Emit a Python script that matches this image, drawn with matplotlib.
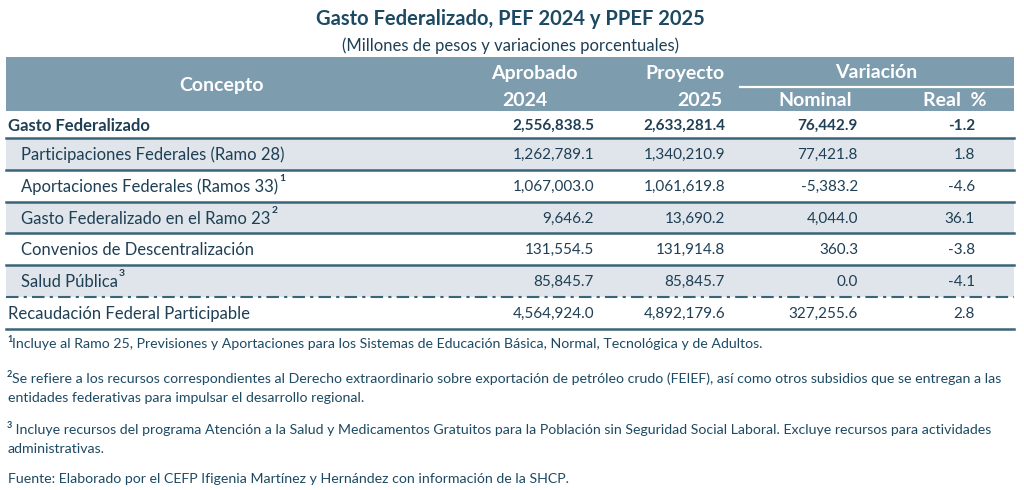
import matplotlib
matplotlib.use("Agg")
import matplotlib.pyplot as plt
from matplotlib import font_manager

# Data
conceptos = ["Gasto Federalizado",
             "Participaciones Federales (Ramo 28)",
             "Aportaciones Federales (Ramos 33)",
             "Gasto Federalizado en el Ramo 23",
             "Convenios de Descentralización",
             "Salud Pública",
             "Recaudación Federal Participable"]
notas = ["", "", "1", "2", "", "3", ""]
aprobado_2024 = [2556838.5, 1262789.1, 1067003.0, 9646.2, 131554.5, 85845.7, 4564924.0]
proyecto_2025 = [2633281.4, 1340210.9, 1061619.8, 13690.2, 131914.8, 85845.7, 4892179.6]
var_nominal = [76442.9, 77421.8, -5383.2, 4044.0, 360.3, 0.0, 327255.6]
var_real = [-1.2, 1.8, -4.6, 36.1, -3.8, -4.1, 2.8]

titulo = "Gasto Federalizado, PEF 2024 y PPEF 2025"
subtitulo = "(Millones de pesos y variaciones porcentuales)"
footnotes = [
    ("1", ["Incluye al Ramo 25, Previsiones y Aportaciones para los Sistemas de Educación Básica, Normal, Tecnológica y de Adultos."]),
    ("2", ["Se refiere a los recursos correspondientes al Derecho extraordinario sobre exportación de petróleo crudo (FEIEF), así como otros subsidios que se entregan a las",
           "entidades federativas para impulsar el desarrollo regional."]),
    ("3", [" Incluye recursos del programa Atención a la Salud y Medicamentos Gratuitos para la Población sin Seguridad Social Laboral. Excluye recursos para actividades",
           "administrativas."]),
    ("", ["Fuente: Elaborado por el CEFP Ifigenia Martínez y Hernández con información de la SHCP."]),
]

# Style
DARK = "#1d4a63"
TEXT = "#1f3f55"
HEAD_BG = "#7d9cae"
BAND = "#dfe5ea"
LINE = "#3a6479"

available = {f.name for f in font_manager.fontManager.ttflist}
FONT = "Lato" if "Lato" in available else "DejaVu Sans"

fig = plt.figure(figsize=(10.24, 4.9), dpi=100)
ax = fig.add_axes([0, 0, 1, 1])
ax.set_xlim(0, 1024)
ax.set_ylim(490, 0)
ax.axis("off")

# Title
ax.text(510, 19, titulo, ha="center", va="center", fontsize=14.5,
        fontweight="bold", color=DARK, family=FONT)
ax.text(511, 46, subtitulo, ha="center", va="center", fontsize=12,
        color=TEXT, family=FONT)

# Header
x0, x1 = 6, 1014
ax.fill_between([x0, x1], 57, 111, color=HEAD_BG, lw=0)
hkw = dict(color="white", fontweight="bold", fontsize=14, family=FONT, va="center")
ax.text(222, 86, "Concepto", ha="center", **hkw)
ax.text(534, 73, "Aprobado", ha="center", **hkw)
ax.text(525, 100, "2024", ha="center", **hkw)
ax.text(685, 73, "Proyecto", ha="center", **hkw)
ax.text(700, 100, "2025", ha="center", **hkw)
ax.text(876, 73, "Variación", ha="center", **hkw)
ax.plot([740, x1], [87, 87], color="white", lw=1.6)
ax.text(815, 100, "Nominal", ha="center", **hkw)
ax.text(955, 100, "Real  %", ha="center", **hkw)

# Rows
first_top, first_h, row_h = 111, 27.3, 31.7
col_right = [594, 725, 858, 975]
renderer = fig.canvas.get_renderer()
inv = ax.transData.inverted()

for i, name in enumerate(conceptos):
    if i == 0:
        top, h = first_top, first_h
    else:
        top, h = first_top + first_h + (i - 1) * row_h, row_h
    bottom = top + h
    yc = top + h / 2 + 1
    if i % 2 == 1:
        ax.fill_between([x0, x1], top, bottom, color=BAND, lw=0, zorder=0)
    bold = i == 0
    indent = 8 if i in (0, len(conceptos) - 1) else 21
    t = ax.text(indent, yc, name, ha="left", va="center", fontsize=12,
                fontweight="bold" if bold else "normal", color=TEXT, family=FONT)
    if notas[i]:
        bb = t.get_window_extent(renderer)
        xr = inv.transform((bb.x1, bb.y1))[0]
        ax.text(xr + 1, yc - 8, notas[i], ha="left", va="center", fontsize=7.5,
                color=TEXT, family=FONT, fontweight="bold")
    vals = [f"{aprobado_2024[i]:,.1f}", f"{proyecto_2025[i]:,.1f}",
            f"{var_nominal[i]:,.1f}", f"{var_real[i]:.1f}"]
    for xr, v in zip(col_right, vals):
        ax.text(xr, yc, v, ha="right", va="center", fontsize=11,
                fontweight="bold" if bold else "normal", color=TEXT, family=FONT)
    if i == len(conceptos) - 2:
        ax.plot([x0, x1], [bottom, bottom], color=LINE, lw=1.5,
                linestyle=(0, (6, 2.5, 1.5, 2.5)))
    else:
        ax.plot([x0, x1], [bottom, bottom], color=LINE, lw=1.8)

# Footnotes
fy = [344, 379, 430, 479]
line_gap = 19
for (sup, lines), y in zip(footnotes, fy):
    if sup:
        ax.text(7, y - 5, sup, ha="left", va="center", fontsize=6.5,
                color=DARK, family=FONT, fontweight="bold")
    for k, txt in enumerate(lines):
        xt = 12 if (sup and k == 0) else 8
        ax.text(xt, y + k * line_gap, txt, ha="left", va="center",
                fontsize=10.2, color=DARK, family=FONT)

fig.savefig("out.png", dpi=100)
